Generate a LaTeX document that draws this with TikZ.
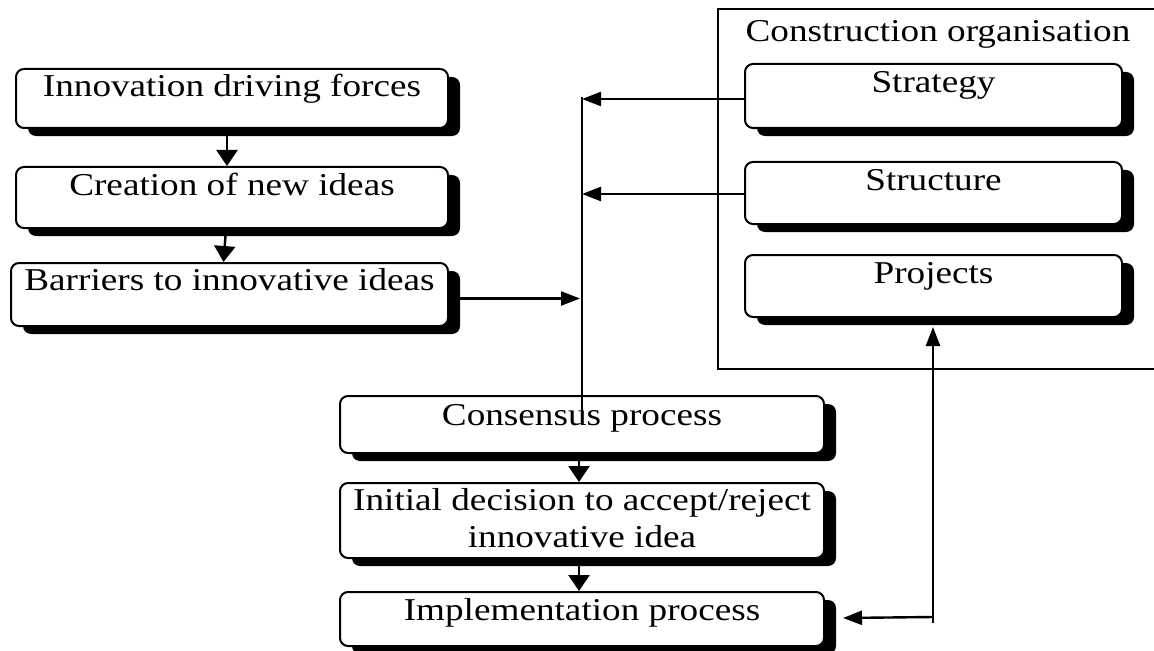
\documentclass[tikz,border=0pt]{standalone}
\usepackage{fontspec}
\setmainfont[FakeStretch=1.17]{Liberation Serif}
\usetikzlibrary{shadows,arrows.meta}
\tikzset{
  box/.style={draw, line width=2bp, rounded corners=8bp, fill=white, anchor=north west, inner sep=0pt,
    drop shadow={shadow xshift=12bp, shadow yshift=-8bp, fill=black, opacity=1}},
  txt/.style={anchor=base, inner sep=0pt, font=\fontsize{31.8bp}{37bp}\selectfont},
  conn/.style={line width=2.4bp},
  varrow/.style={conn, -{Triangle[length=16bp,width=21bp]}},
  harrow/.style={conn, -{Triangle[length=19bp,width=14bp]}},
}
\begin{document}
\begin{tikzpicture}[x=1bp,y=-1bp]
\useasboundingbox (0,0) rectangle (1154,651);
% organisation frame
\node[draw, line width=2bp, anchor=north west, inner sep=0pt, minimum width=442bp, minimum height=360bp] (org) at (717,8) {};
\node[txt] (orgt) at (938,42) {Construction organisation};
% left chain
\node[box, minimum width=432bp, minimum height=59bp] (b1) at (15,68) {};
\node[txt] (t1) at ([yshift=-29bp]b1.north) {Innovation driving forces};
\node[box, minimum width=432bp, minimum height=61bp] (b2) at (15,166) {};
\node[txt] (t2) at ([yshift=-29bp]b2.north) {Creation of new ideas};
\node[box, minimum width=437bp, minimum height=63bp] (b3) at (10,262) {};
\node[txt] (t3) at ([yshift=-28bp]b3.north) {Barriers to innovative ideas};
% organisation boxes
\node[box, minimum width=377bp, minimum height=64bp] (strat) at (744,63) {};
\node[txt] (tstrat) at ([yshift=-30bp]strat.north) {Strategy};
\node[box, minimum width=377bp, minimum height=62bp] (struc) at (744,161) {};
\node[txt] (tstruc) at ([yshift=-29bp]struc.north) {Structure};
\node[box, minimum width=377bp, minimum height=62bp] (proj) at (744,254) {};
\node[txt] (tproj) at ([yshift=-29bp]proj.north) {Projects};
% lower chain
\node[box, minimum width=484bp, minimum height=57bp] (cons) at (339,395) {};
\node[txt] (tcons) at ([yshift=-30bp]cons.north) {Consensus process};
\node[box, minimum width=484bp, minimum height=75bp] (init) at (339,482) {};
\node[txt] (tinit1) at ([yshift=-28bp]init.north) {Initial decision to accept/reject};
\node[txt] (tinit2) at ([yshift=-65bp]init.north) {innovative idea};
\node[box, minimum width=484bp, minimum height=54bp] (impl) at (339,591) {};
\node[txt] (timpl) at ([yshift=-29bp]impl.north) {Implementation process};
% connectors
\draw[varrow] ([xshift=-5bp]b1.south) -- ([xshift=-5bp]b2.north);
\draw[varrow] ([xshift=-6bp]b2.south) -- ([xshift=-6bp]b3.north);
\coordinate (vtop) at (582,97);
\coordinate (vbot) at (582,413);
\draw[conn] (vtop) -- (vbot);
\draw[harrow] ([yshift=-3bp]strat.west) -- ([yshift=-3bp]strat.west -| vtop);
\draw[harrow] ([yshift=-1bp]struc.west) -- ([yshift=-1bp]struc.west -| vtop);
\draw[harrow] ([xshift=10bp,yshift=-4bp]b3.east) -- ([xshift=-2bp,yshift=-4bp]b3.east -| vtop);
\draw[varrow] ([xshift=-3bp]cons.south) -- ([xshift=-3bp]init.north);
\draw[varrow] ([xshift=-3bp]init.south) -- ([xshift=-3bp]impl.north);
\coordinate (c1) at (933,617);
\draw[harrow] ([yshift=-6bp]c1) -- ([yshift=-9bp]proj.south -| c1);
\draw[harrow] (c1) -- ([xshift=18bp,yshift=1bp]impl.east);
\end{tikzpicture}
\end{document}
